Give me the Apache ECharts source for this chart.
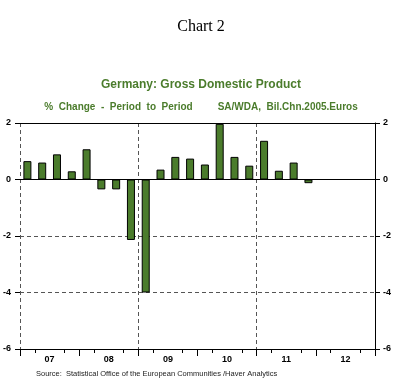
<!DOCTYPE html>
<html>
<head>
<meta charset="utf-8">
<style>
html,body{margin:0;padding:0;background:#fff;}
#chart{width:402px;height:380px;}
</style>
<script src="https://cdn.jsdelivr.net/npm/echarts@6/dist/echarts.min.js"></script>
</head>
<body>
<div id="chart"></div>
<script>
var quarters = ['07Q1','07Q2','07Q3','07Q4','08Q1','08Q2','08Q3','08Q4','09Q1','09Q2','09Q3','09Q4',
                '10Q1','10Q2','10Q3','10Q4','11Q1','11Q2','11Q3','11Q4','12Q1','12Q2','12Q3','12Q4'];
var gdpChange = [0.65, 0.60, 0.89, 0.29, 1.07, -0.35, -0.35, -2.14, -4.00, 0.35, 0.80, 0.74,
                 0.53, 1.97, 0.80, 0.49, 1.37, 0.31, 0.60, -0.13, null, null, null, null];
var years = ['07','08','09','10','11','12'];
var yMin = -6, yMax = 2, yStep = 2;

var chart = echarts.init(document.getElementById('chart'), null, {renderer:'canvas'});
var green = '#4b7c2c';
var tickFont = {fontFamily:'Liberation Sans, Arial, sans-serif', fontWeight:'bold', fontSize:9, color:'#000'};
var dash = {color:'#555', width:1, type:[4,3]};

var option = {
  backgroundColor:'#fff',
  animation:false,
  title:[
    {text:'Chart 2', left:'center', top:14, textStyle:{fontFamily:'Liberation Serif, Times New Roman, serif', fontWeight:'normal', fontSize:16, color:'#000'}},
    {text:'Germany: Gross Domestic Product', left:'center', top:74, textStyle:{fontFamily:'Liberation Sans, Arial, sans-serif', fontWeight:'bold', fontSize:12, color:green}},
    {text:'%  Change  -  Period  to  Period         SA/WDA,  Bil.Chn.2005.Euros', left:'center', top:97, textStyle:{fontFamily:'Liberation Sans, Arial, sans-serif', fontWeight:'bold', fontSize:10, color:green}},
    {text:'Source:  Statistical Office of the European Communities /Haver Analytics', left:31, top:365, textStyle:{fontFamily:'Liberation Sans, Arial, sans-serif', fontWeight:'normal', fontSize:7.5, color:'#222'}}
  ],
  grid:{left:20, right:27, top:123, bottom:31, containLabel:false},
  xAxis:[
    {type:'category', data:quarters, position:'bottom', boundaryGap:true,
     axisLine:{show:true, onZero:false, lineStyle:{color:'#000', width:1}},
     axisTick:{show:true, interval:function(i){return i%2===1;}, length:4, lineStyle:{color:'#000'}},
     axisLabel:{show:false}, splitLine:{show:false}},
    {type:'category', data:years, position:'bottom', boundaryGap:true,
     axisLine:{show:false, onZero:false},
     axisTick:{show:true, interval:0, length:7, lineStyle:{color:'#000'}},
     axisLabel:Object.assign({show:true, interval:0, margin:6}, tickFont),
     splitLine:{show:true, interval:function(i){return i%2===0;}, lineStyle:dash}},
    {type:'category', data:years, position:'top', boundaryGap:true,
     axisLine:{show:true, onZero:false, lineStyle:{color:'#000', width:1}},
     axisTick:{show:false}, axisLabel:{show:false}, splitLine:{show:false}}
  ],
  yAxis:[
    {type:'value', position:'left', min:yMin, max:yMax, interval:yStep,
     axisLine:{show:false}, axisTick:{show:true, length:5, lineStyle:{color:'#000'}},
     axisLabel:Object.assign({margin:9}, tickFont),
     splitLine:{show:true, lineStyle:dash}},
    {type:'value', position:'right', min:yMin, max:yMax, interval:yStep,
     axisLine:{show:true, lineStyle:{color:'#000', width:1}}, axisTick:{show:true, length:5, lineStyle:{color:'#000'}},
     axisLabel:Object.assign({margin:8}, tickFont),
     splitLine:{show:false}}
  ],
  series:[
    {type:'bar', xAxisIndex:0, yAxisIndex:0, data:gdpChange, barWidth:8,
     itemStyle:{color:green, borderColor:'#000', borderWidth:1},
     markLine:{silent:true, symbol:'none', label:{show:false}, lineStyle:{color:'#000', width:1, type:'solid'},
       data:[{yAxis:0}]}}
  ]
};
chart.setOption(option);
</script>
</body>
</html>
